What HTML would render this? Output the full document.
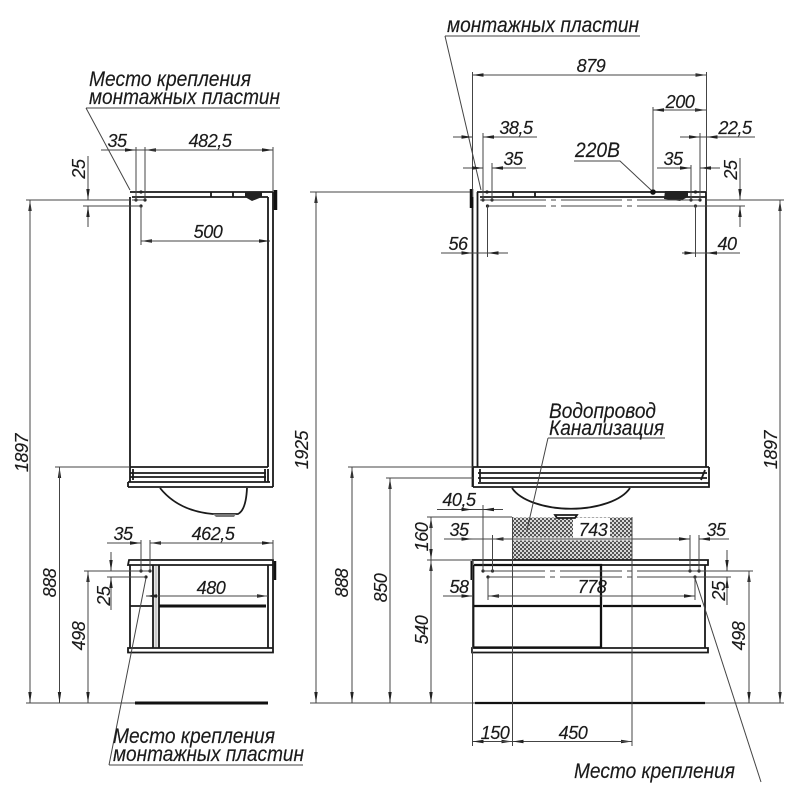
<!DOCTYPE html>
<html><head><meta charset="utf-8"><style>
html,body{margin:0;padding:0;background:#fff}
svg{display:block}
text{font-family:"Liberation Sans","DejaVu Sans",sans-serif;font-style:italic;fill:#1a1a1a;font-size:18px;letter-spacing:-.45px;stroke:#1a1a1a;stroke-width:.15}
.c{text-anchor:middle}
.l{font-size:21px;letter-spacing:0}
.d{fill:none;stroke:#444;stroke-width:1}
.o{fill:none;stroke:#1a1a1a;stroke-width:1.8}
.h{fill:none;stroke:#111;stroke-width:3}
</style></head><body>
<svg width="800" height="800" viewBox="0 0 800 800" xmlns="http://www.w3.org/2000/svg">
<defs>
<marker id="a" markerUnits="userSpaceOnUse" markerWidth="12" markerHeight="5" refX="11" refY="2.5" orient="auto"><path d="M0 .8L11 2.5L0 4.200Z" fill="#222"/></marker>
<pattern id="p" width="4" height="4" patternUnits="userSpaceOnUse"><rect width="4" height="4" fill="#d8d8d8"/><rect width="2" height="2" fill="#555"/><rect x="2" y="2" width="2" height="2" fill="#555"/></pattern>
</defs>

<!-- hatch -->
<rect x="512.5" y="517.5" width="119.5" height="42.5" fill="url(#p)"/>
<rect x="573" y="518" width="37" height="20" fill="#fff"/>
<rect x="512" y="537.5" width="120" height="3" fill="#eee"/>

<!-- LEFT objects -->
<g class="o">
<path d="M130 197V467M268 197V467M273 192V487M130 192H273M132 197H268M211 192V197M233 192V197"/>
<path d="M130 467H268M130 473H266M130 477H266M128 482H270M128 487H273M128 482V487M130 467V482M133 469V480M265 469V482M268 469V482"/>
<path d="M160 488C172 503 190 512 213 514H238Q246 510 247 488"/>
<path d="M129 560H273V565H128ZM130 565V648M153 565V648M159 565V648M268 565V648M273 565V648M130 606H153M128 648H273V652.500H128Z"/>
</g>
<path d="M213 514H236L234 517H216Z" fill="#777"/>
<path d="M245 192H262V197L252 201L245 197Z" fill="#222"/>
<path d="M275.500 190V210" stroke="#111" stroke-width="3.500"/>
<path d="M275 561V580" fill="none" stroke="#111" stroke-width="2.500"/>
<path d="M159 606H266M135 703H268" class="h"/>
<path d="M156 566V647" stroke="#ccc" stroke-width="3"/>

<!-- RIGHT objects -->
<g class="o">
<path d="M472.500 197V487M477.500 192V467M706 192V467M477 192H706V197M480 197H706M513 192V197M535 192V197"/>
<path d="M473 467H709M478 473H707M478 478H707M478 483H709M473 487H709V467M473 467V487M480 469V482M705 470L701 480"/>
<path d="M512 488A62 30 0 0 0 630 488"/>
<path d="M555 515H577L575 518H557Z"/>
<path d="M472 560H708V565H474M473.500 565V648M705 565V648M472 648H708V652.500H472Z"/>
</g>
<path d="M474 565H601V648M474 606H601M474 647.500H601M603 606H701M475 703H705" fill="none" stroke="#111" stroke-width="2.300"/>
<path d="M665 191H688V197L680 201L664 199Z" fill="#222"/>
<path d="M471.500 189V208" stroke="#111" stroke-width="3.500"/>
<path d="M472 561V580" stroke="#111" stroke-width="3"/>
<circle cx="653" cy="192" r="2.800" fill="#111"/>

<!-- dots -->
<g fill="#222">
<circle cx="141" cy="192" r="1.600"/><circle cx="136" cy="200" r="1.600"/><circle cx="145" cy="200" r="1.600"/><circle cx="141" cy="206" r="1.600"/>
<circle cx="141" cy="571" r="1.600"/><circle cx="150" cy="571" r="1.600"/><circle cx="146" cy="577" r="1.600"/>
<circle cx="487" cy="192" r="1.600"/><circle cx="483" cy="200" r="1.600"/><circle cx="492" cy="200" r="1.600"/><circle cx="487.500" cy="206" r="1.600"/>
<circle cx="695.500" cy="192" r="1.600"/><circle cx="691" cy="200" r="1.600"/><circle cx="700" cy="200" r="1.600"/><circle cx="695.500" cy="206" r="1.600"/>
<circle cx="483" cy="571" r="1.600"/><circle cx="492.500" cy="571" r="1.600"/><circle cx="488" cy="577" r="1.600"/>
<circle cx="690" cy="571" r="1.600"/><circle cx="699" cy="571" r="1.600"/><circle cx="695" cy="577" r="1.600"/>
</g>

<!-- extension / dim lines LEFT -->
<g class="d">
<path d="M86 108H280M86 108L130 190"/>
<path d="M136 147V200M145 147V200M273 147V192M26 200H130M83 206H141M141 206V245M132 200H145"/>
<path d="M55 467H130M84 571H150M107 577H146M26 703H135"/>
<path d="M141 540V571M150 540V571M273 540V560"/>
<path d="M109 765H303M109 765L146 578"/>
<path d="M101 150H173"/>
</g>
<g class="d" >
<path d="M101 150H136" marker-end="url(#a)"/><path d="M273 150H145" marker-end="url(#a)"/><path d="M145 150H273" marker-end="url(#a)"/>
<path d="M88 156V200" marker-end="url(#a)"/><path d="M88 227V206" marker-end="url(#a)"/>
<path d="M270 241H141" marker-end="url(#a)"/><path d="M141 241H270" marker-end="url(#a)"/>
<path d="M30 703V200" marker-end="url(#a)"/><path d="M30 200V703" marker-end="url(#a)"/>
<path d="M59.500 703V467" marker-end="url(#a)"/><path d="M59.500 467V703" marker-end="url(#a)"/>
<path d="M88 703V571" marker-end="url(#a)"/><path d="M88 571V703" marker-end="url(#a)"/>
<path d="M111 552V571" marker-end="url(#a)"/><path d="M111 610V577" marker-end="url(#a)"/>
<path d="M107 543H141" marker-end="url(#a)"/><path d="M273 543H150" marker-end="url(#a)"/><path d="M150 543H273" marker-end="url(#a)"/>
<path d="M146 596H268" marker-end="url(#a)"/><path d="M268 596H146" marker-end="url(#a)"/>
</g>

<!-- extension / dim lines RIGHT -->
<g class="d">
<path d="M445 36H640M445 36L481 190"/>
<path d="M472.500 72V197M706.500 72V192M653 107V190M483 133V200M700 133V200M492 163V200M691 165V200"/>
<path d="M310 192H470M706 200H784M487 206H546M551 206H556M561 206H622M627 206H632M637 206H745"/>
<path d="M480 200H546M551 200H556M561 200H622M627 200H632M637 200H700"/>
<path d="M487.500 206V257M695.500 206V257"/>
<path d="M574 161H620L651 190"/>
<path d="M548 438H665M548 438L527 530"/>
<path d="M348 467H473M386 478H473M427 517H512M427 560H472"/>
<path d="M310 703H475M705 703H784"/>
<path d="M472.500 560V746M512.500 517V746M632 517V746"/>
<path d="M483 505V571M492.500 535V571M690 535V571M699 535V571M488 577V600M695 577V600"/>
<path d="M483 571H545M550 571H555M560 571H622M627 571H632M637 571H753"/>
<path d="M488 577H545M550 577H555M560 577H622M627 577H632M637 577H731"/>
<path d="M695 578L761 782"/>
<path d="M495 137H537M680 137H755M444 539H492M699 539H729M657 168H691M700 168H720M492 168H526M441 253H487M696 253H740M437 509.500H503"/>
</g>
<g class="d">
<path d="M472.500 75H706.500" marker-end="url(#a)"/><path d="M706.500 75H472.500" marker-end="url(#a)"/>
<path d="M653 110H706" marker-end="url(#a)"/><path d="M706 110H653" marker-end="url(#a)"/>
<path d="M453 137H472.500" marker-end="url(#a)"/><path d="M503 137H483" marker-end="url(#a)"/>
<path d="M680 137H700" marker-end="url(#a)"/><path d="M720 137H706.500" marker-end="url(#a)"/>
<path d="M463 168H483" marker-end="url(#a)"/><path d="M526 168H492" marker-end="url(#a)"/>
<path d="M657 168H691" marker-end="url(#a)"/><path d="M720 168H700" marker-end="url(#a)"/>
<path d="M740 158V200" marker-end="url(#a)"/><path d="M740 227V206" marker-end="url(#a)"/>
<path d="M441 253H472.500" marker-end="url(#a)"/><path d="M508 253H487.500" marker-end="url(#a)"/>
<path d="M682 253H695.500" marker-end="url(#a)"/><path d="M740 253H706" marker-end="url(#a)"/>
<path d="M316 703V192" marker-end="url(#a)"/><path d="M316 192V703" marker-end="url(#a)"/>
<path d="M352 703V467" marker-end="url(#a)"/><path d="M352 467V703" marker-end="url(#a)"/>
<path d="M390 703V478" marker-end="url(#a)"/><path d="M390 478V703" marker-end="url(#a)"/>
<path d="M431 560V517" marker-end="url(#a)"/><path d="M431 517V560" marker-end="url(#a)"/>
<path d="M431 703V560" marker-end="url(#a)"/><path d="M431 560V703" marker-end="url(#a)"/>
<path d="M437 509.500H472.500" marker-end="url(#a)"/><path d="M503 509.500H483" marker-end="url(#a)"/>
<path d="M444 539H472.500" marker-end="url(#a)"/>
<path d="M690 539H492.500" marker-end="url(#a)"/><path d="M492.500 539H690" marker-end="url(#a)"/>
<path d="M729 539H699" marker-end="url(#a)"/>
<path d="M443 596H472.500" marker-end="url(#a)"/>
<path d="M695 596H488" marker-end="url(#a)"/><path d="M488 596H695" marker-end="url(#a)"/>
<path d="M727 550V571" marker-end="url(#a)"/><path d="M727 605V577" marker-end="url(#a)"/>
<path d="M749 703V571" marker-end="url(#a)"/><path d="M749 571V703" marker-end="url(#a)"/>
<path d="M780 703V200" marker-end="url(#a)"/><path d="M780 200V703" marker-end="url(#a)"/>
<path d="M472.500 741.500H512.500" marker-end="url(#a)"/><path d="M512.500 741.500H472.500" marker-end="url(#a)"/>
<path d="M512.500 741.500H632" marker-end="url(#a)"/><path d="M632 741.500H512.500" marker-end="url(#a)"/>
</g>

<!-- labels -->
<text class="l" x="89" y="86" textLength="162" lengthAdjust="spacingAndGlyphs">Место крепления</text>
<text class="l" x="89" y="104" textLength="191" lengthAdjust="spacingAndGlyphs">монтажных пластин</text>
<text class="l" x="447" y="32" textLength="192" lengthAdjust="spacingAndGlyphs">монтажных пластин</text>
<text class="l" x="113" y="743" textLength="162" lengthAdjust="spacingAndGlyphs">Место крепления</text>
<text class="l" x="113" y="761" textLength="191" lengthAdjust="spacingAndGlyphs">монтажных пластин</text>
<text class="l" x="574" y="778" textLength="161" lengthAdjust="spacingAndGlyphs">Место крепления</text>
<text class="l" x="549" y="418" textLength="107" lengthAdjust="spacingAndGlyphs">Водопровод</text>
<text class="l" x="549" y="435" textLength="115" lengthAdjust="spacingAndGlyphs">Канализация</text>
<text class="l" x="575" y="157" textLength="45" lengthAdjust="spacingAndGlyphs">220В</text>

<!-- horizontal dims -->
<g>
<text class="c" x="117" y="147">35</text>
<text class="c" x="210" y="147">482,5</text>
<text class="c" x="208" y="238">500</text>
<text class="c" x="123" y="540">35</text>
<text class="c" x="213" y="540">462,5</text>
<text class="c" x="211" y="594">480</text>
<text class="c" x="591" y="72">879</text>
<text class="c" x="680" y="108">200</text>
<text class="c" x="516" y="134">38,5</text>
<text class="c" x="735" y="134">22,5</text>
<text class="c" x="513" y="165">35</text>
<text class="c" x="673" y="165">35</text>
<text class="c" x="458" y="250">56</text>
<text class="c" x="727" y="250">40</text>
<text class="c" x="459" y="506">40,5</text>
<text class="c" x="459" y="536">35</text>
<text class="c" x="593" y="536">743</text>
<text class="c" x="716" y="536">35</text>
<text class="c" x="459" y="593">58</text>
<text class="c" x="592" y="593">778</text>
<text class="c" x="495" y="739">150</text>
<text class="c" x="573" y="739">450</text>
</g>

<!-- rotated dims -->
<text class="c" transform="translate(85 169) rotate(-90)">25</text>
<text class="c" transform="translate(28 453) rotate(-90)">1897</text>
<text class="c" transform="translate(56 583) rotate(-90)">888</text>
<text class="c" transform="translate(85 636) rotate(-90)">498</text>
<text class="c" transform="translate(110 596) rotate(-90)">25</text>
<text class="c" transform="translate(308 450) rotate(-90)">1925</text>
<text class="c" transform="translate(348 583) rotate(-90)">888</text>
<text class="c" transform="translate(387 588) rotate(-90)">850</text>
<text class="c" transform="translate(428 537) rotate(-90)">160</text>
<text class="c" transform="translate(428 630) rotate(-90)">540</text>
<text class="c" transform="translate(737 170) rotate(-90)">25</text>
<text class="c" transform="translate(725 591) rotate(-90)">25</text>
<text class="c" transform="translate(745 636) rotate(-90)">498</text>
<text class="c" transform="translate(777 450) rotate(-90)">1897</text>
</svg>
</body></html>
